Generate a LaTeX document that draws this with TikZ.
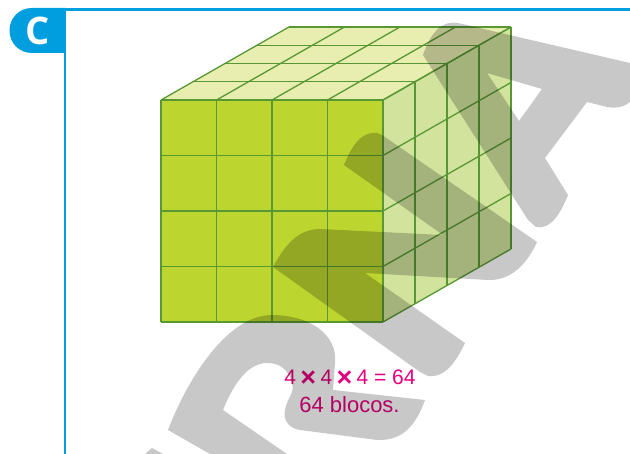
\documentclass[tikz,border=0pt]{standalone}
\usepackage{xcolor}
\usepackage{fontspec}
\setmainfont{Liberation Sans}
\newfontfamily\tabfont{Open Sans}
\definecolor{frameblue}{RGB}{0,158,222}
\definecolor{frontgreen}{RGB}{189,214,47}
\definecolor{topgreen}{RGB}{232,237,176}
\definecolor{sidegreen}{RGB}{210,227,158}
\definecolor{gridgreen}{RGB}{88,152,52}
\definecolor{answer}{RGB}{230,0,126}
\definecolor{stamp}{RGB}{200,200,200}
\newcommand{\timessign}{\hspace{-1.5pt}\raisebox{-2pt}{\fontsize{27}{22}\selectfont\textbf{×}}\hspace{-1.5pt}}

\begin{document}
\begin{tikzpicture}[
  x=1pt,y=-1pt,
  grid/.style={draw=gridgreen,line width=1.3pt,line join=round},
  lbl/.style={text=answer,font=\fontsize{21}{22}\selectfont,inner sep=0pt},
  tabletter/.style={text=white,font=\tabfont\bfseries\fontsize{38}{38}\selectfont,inner sep=0pt}
]
\useasboundingbox (0,0) rectangle (630,454);
\clip (0,0) rectangle (630,454);

%% ── Frame and tab ───────────────────────────────────────────────────────────
\fill[frameblue] (63.5,8) rectangle (630,11);
\fill[frameblue] (63.5,8) rectangle (65.7,454);
\fill[frameblue] (65.7,8) -- (32,8) .. controls (19,8) and (9.5,18) .. (9.5,30.5)
  .. controls (9.5,43) and (19,53) .. (32,53) -- (65.7,53) -- cycle;
\node[tabletter] (tab) at (37.5,30.5) {C};

%% ── Cube faces ──────────────────────────────────────────────────────────────
\fill[frontgreen] (161,100) rectangle (383,322);
\fill[topgreen] (161,100) -- (289,27) -- (511,27) -- (383,100) -- cycle;
\fill[sidegreen] (383,100) -- (511,27) -- (511,249) -- (383,322) -- cycle;

%% ── Cube grid: four cells along every edge ──────────────────────────────────
\foreach \i in {0,...,4} {
  \draw[grid] (161+55.5*\i,100) -- (161+55.5*\i,322);
  \draw[grid] (161,100+55.5*\i) -- (383,100+55.5*\i);
  \draw[grid] (161+55.5*\i,100) -- (289+55.5*\i,27);
  \draw[grid] (161+32*\i,100-18.25*\i) -- (383+32*\i,100-18.25*\i);
  \draw[grid] (383+32*\i,100-18.25*\i) -- (383+32*\i,322-18.25*\i);
  \draw[grid] (383,100+55.5*\i) -- (511,27+55.5*\i);
}

%% ── Answer ──────────────────────────────────────────────────────────────────
\node[lbl] (sum) at (350,378) {4 \timessign{} 4 \timessign{} 4 = 64};
\node[lbl,font=\fontsize{22}{22}\selectfont] (total) at (349.5,405) {64 blocos.};

%% ── Watermark letters, multiplied over everything ───────────────────────────
\begin{scope}[blend mode=multiply]
\fill[stamp,even odd rule] (423,55) .. controls (430,35) and (440,20) .. (458,23)
  -- (630,63) -- (630,102) .. controls (625,106) and (618,109) .. (607,107)
  -- (587,102) -- (545,158) -- (568,195) .. controls (560,215) and (550,230) .. (536,227)
  -- (528,220) -- cycle
  (487,73) -- (542,89) -- (519,121) -- cycle;
\fill[stamp] (344,165) .. controls (352,145) and (362,131) .. (377,133) -- (382,135)
  -- (537,242) .. controls (528,262) and (512,281) .. (488,280)
  -- (365,273) -- (465,343) .. controls (456,362) and (445,378) .. (428,376) -- (420,372)
  -- (273,267) .. controls (285,245) and (298,229) .. (320,229)
  -- (443,235) -- cycle;
\fill[stamp,even odd rule] (210,454) -- (168,430) .. controls (185,385) and (225,315) .. (272,315)
  .. controls (310,315) and (338,335) .. (335,363) -- (333,390) -- (425,400)
  .. controls (416,425) and (403,441) .. (377,440) -- (300,430)
  .. controls (287,428) and (283,418) .. (285,410)
  .. controls (287,398) and (295,393) .. (292,383)
  .. controls (289,370) and (280,363) .. (267,363)
  .. controls (250,363) and (235,380) .. (223,410) -- (287,454) -- cycle;
\fill[stamp] (145,454) -- (152,448) -- (163,454) -- cycle;
\end{scope}
\end{tikzpicture}
\end{document}
